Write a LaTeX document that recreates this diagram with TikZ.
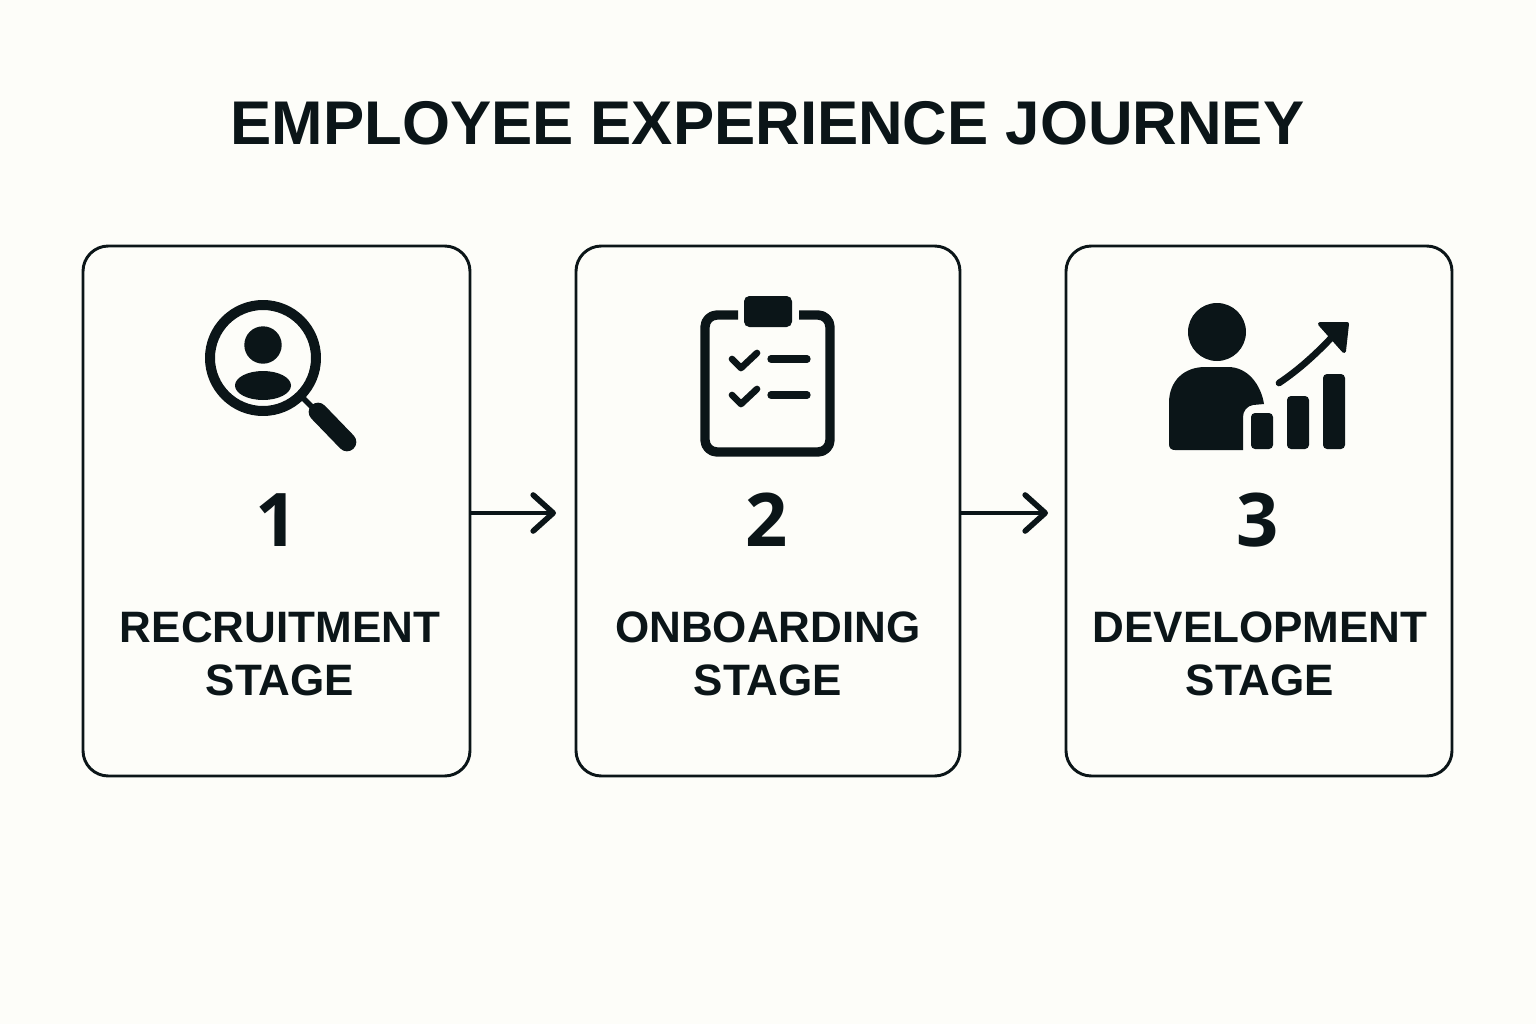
\documentclass[tikz,border=0pt]{standalone}
\usepackage{fontspec}
\setmainfont{Liberation Sans}
\newfontfamily\digitfont{Open Sans}
\usetikzlibrary{positioning,arrows.meta}
\definecolor{inkdark}{HTML}{0B1518}
\definecolor{paperbg}{HTML}{FDFDF9}
\tikzset{
	stagebox/.style={draw=inkdark, line width=2.2pt, rounded corners=19pt, minimum height=397.5pt, outer sep=0pt},
	titletxt/.style={text=inkdark, font=\bfseries\fontsize{46.3}{50}\selectfont, inner sep=0pt, anchor=base},
	numtxt/.style={text=inkdark, font=\digitfont\bfseries\fontsize{55.5}{60}\selectfont, inner sep=0pt, anchor=base},
	stagetxt/.style={text=inkdark, font=\bfseries\fontsize{33}{40}\selectfont, inner sep=0pt, align=center, anchor=center},
	flow/.style={draw=inkdark, line width=3.2pt, -{Straight Barb[length=15pt,width=27pt,line width=4.2pt,round]}},
	iconline/.style={draw=inkdark, line cap=round, line join=round},
	iconfill/.style={fill=inkdark}
}
\begin{document}
\begin{tikzpicture}[x=0.75pt,y=-0.75pt]
	\useasboundingbox[fill=paperbg] (0,0) rectangle (1536,1024);

	\node[titletxt] (title) at (767.5,144.5) {EMPLOYEE EXPERIENCE JOURNEY};

	\node[stagebox, minimum width=290.25pt] (boxa) at (276.5,511) {};
	\node[stagebox, minimum width=288pt, right=79.5pt of boxa] (boxb) {};
	\node[stagebox, minimum width=289.5pt, right=79.5pt of boxb] (boxc) {};

	\node[numtxt] (numa) at (277,546) {1};
	\node[numtxt] (numb) at (767,546) {2};
	\node[numtxt] (numc) at (1258,546) {3};

	\node[stagetxt] (stagea) at (280,654) {RECRUITMENT\\STAGE};
	\node[stagetxt] (stageb) at (768,654) {ONBOARDING\\STAGE};
	\node[stagetxt] (stagec) at (1260,654) {DEVELOPMENT\\STAGE};

	\coordinate (tipa) at (556,513);
	\coordinate (tipb) at (1048,513);
	\draw[flow] (boxa.east |- tipa) -- (tipa);
	\draw[flow] (boxb.east |- tipb) -- (tipb);

	% magnifier
	\draw[iconline, line width=7.5pt] (263,358) circle (53);
	\fill[iconfill] (263,345) circle (18.7);
	\fill[iconfill] (263,385.5) ellipse (28 and 14.5);
	\draw[iconline, line width=4pt] (303,398) -- (318,413);
	\draw[iconline, line width=14pt] (318,412) -- (347,442);

	% clipboard
	\draw[iconline, line width=7pt, rounded corners=9pt, line cap=butt] (738,315) -- (705,315) -- (705,452) -- (830,452) -- (830,315) -- (799,315);
	\fill[iconfill, rounded corners=4pt] (744,296) rectangle (792,327);
	\foreach \yy in {359,395} {
		\draw[iconline, line width=5pt] (732,\yy) -- (741,\yy+9) -- (757,\yy-6);
		\draw[iconline, line width=5.5pt] (771,\yy) -- (807,\yy);
	}

	% person with growth bars
	\fill[iconfill] (1217,332) circle (29);
	\fill[iconfill] (1169,403) .. controls (1169,380) and (1185,367) .. (1205,367) -- (1228,367) .. controls (1248,367) and (1261,385) .. (1264,404) -- (1253,405) .. controls (1247,406) and (1243,411) .. (1243,417) -- (1243,450) -- (1175,450) .. controls (1171,450) and (1169,448) .. (1169,444) -- cycle;
	\fill[iconfill, rounded corners=3pt] (1251,413) rectangle (1273,449);
	\fill[iconfill, rounded corners=3pt] (1287,396) rectangle (1309,449);
	\fill[iconfill, rounded corners=3pt] (1323,374) rectangle (1345,449);
	\draw[iconline, line width=5pt] (1279,383) .. controls (1300,369) and (1318,352) .. (1333,336);
	\filldraw[iconfill, draw=inkdark, line join=round, line width=3pt] (1320,324) -- (1347,324) -- (1344,351) -- cycle;
\end{tikzpicture}
\end{document}
